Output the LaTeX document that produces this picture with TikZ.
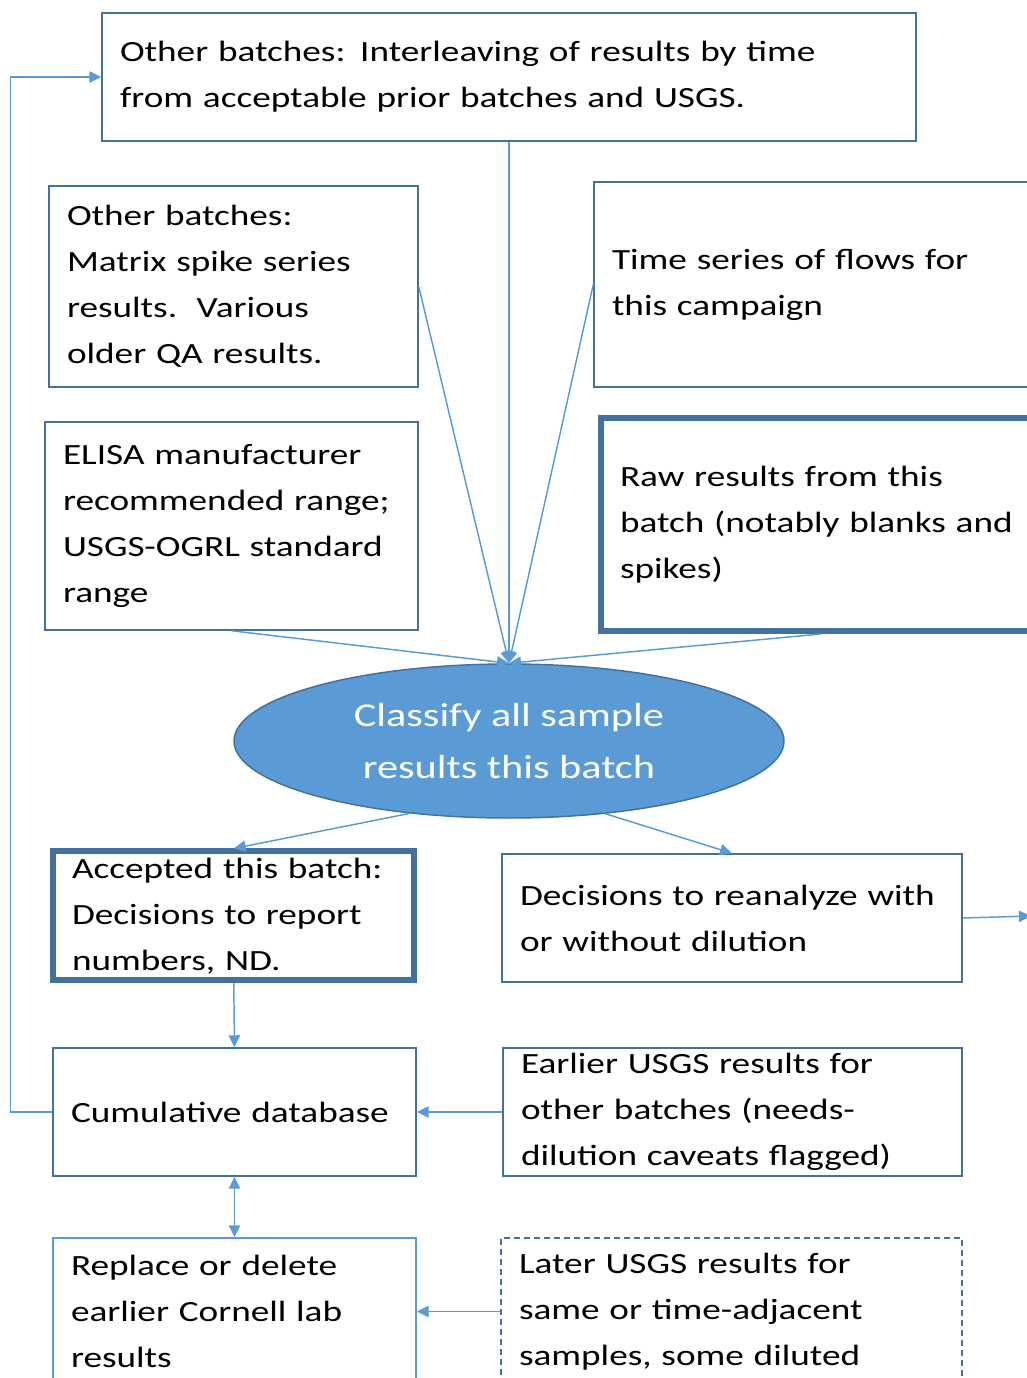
\documentclass[tikz,border=0pt]{standalone}
\usepackage{fontspec}
\setmainfont{Carlito}[FakeStretch=1.27]
\usetikzlibrary{shapes.geometric, arrows.meta}
\definecolor{boxblue}{HTML}{41719C}
\definecolor{lineblue}{HTML}{5B9BD5}

\begin{document}
\begin{tikzpicture}[x=0.75pt,y=-0.75pt,
            box/.style={draw=boxblue, line width=1.1pt, align=left, inner xsep=13.5pt, inner ysep=0pt, minimum height=96pt, font=\fontsize{22}{34.5}\selectfont},
            heavybox/.style={box, line width=4.5pt, inner xsep=14.25pt},
            conn/.style={draw=lineblue, line width=1.1pt, -{Triangle[length=9pt,width=8.5pt]}},
            classify/.style={ellipse, draw=boxblue, fill=lineblue, line width=1.1pt, minimum width=412.5pt, minimum height=115.5pt, inner sep=0pt, text=white, align=center, font=\fontsize{25}{39}\selectfont}]
            \useasboundingbox (0,0) rectangle (1027,1378);
            \clip (0,0) rectangle (1027,1378);
            \node[box, text width=583.5pt] (interleave) at (509,77) {Other batches: Interleaving of results by time\\from acceptable prior batches and USGS.};
            \node[box, text width=249.75pt, minimum height=150.75pt] (spikes) at (233.5,286.5) {Other batches:\\Matrix spike series\\results.\ \ Various\\older QA results.};
            \node[box, text width=322.5pt, minimum height=153.75pt] (flows) at (827,284.5) {Time series of flows for\\this campaign};
            \node[box, text width=252.75pt, minimum height=156pt] (range) at (231.5,526) {ELISA manufacturer\\recommended range;\\USGS-OGRL standard\\range};
            \node[heavybox, text width=300.75pt, minimum height=159.75pt] (raw) at (820.5,524.5) {Raw results from this\\batch (notably blanks and\\spikes)};
            \node[classify] (classify) at (509,741) {Classify all sample\\results this batch};
            \node[heavybox, text width=242.6pt, minimum height=96.4pt] (accepted) at (233.75,915.75) {Accepted this batch:\\Decisions to report\\numbers, ND.};
            \node[box, text width=318pt] (reanalyze) at (732,918) {Decisions to reanalyze with\\or without dilution};
            \node[box, text width=245.25pt] (cumulative) at (234.5,1112) {Cumulative database};
            \node[box, text width=317.25pt] (earlier) at (732.5,1112) {Earlier USGS results for\\other batches (needs-\\dilution caveats flagged)};
            \node[box, draw=lineblue, text width=245.25pt, minimum height=110.25pt] (replace) at (234.5,1311.5) {Replace or delete\\earlier Cornell lab\\results};
            \node[box, dash pattern=on 4.5pt off 3pt, text width=318.75pt, minimum height=110.25pt] (later) at (731.5,1311.5) {Later USGS results for\\same or time-adjacent\\samples, some diluted};
            \coordinate (offpage) at (1031,916);
            \draw[conn] (interleave.south) -- (classify.north);
            \draw[conn] (spikes.east) -- (classify.north);
            \draw[conn] (flows.west) -- (classify.north);
            \draw[conn] (range.south) -- (classify.north);
            \draw[conn] (raw.south) -- (classify.north);
            \draw[conn] (classify.216) -- (accepted.north);
            \draw[conn] (classify.323) -- (reanalyze.north);
            \draw[conn] (reanalyze.east) -- (offpage);
            \draw[conn] (accepted.south) -- (cumulative.north);
            \draw[conn] (earlier.west) -- (cumulative.east);
            \draw[conn, {Triangle[length=9pt,width=8.5pt]}-{Triangle[length=9pt,width=8.5pt]}] (cumulative.south) -- (replace.north);
            \draw[conn] (later.west) -- (replace.east);
            \draw[conn] (cumulative.west) -- ++(-42,0) |- (interleave.west);
        \end{tikzpicture}
\end{document}
